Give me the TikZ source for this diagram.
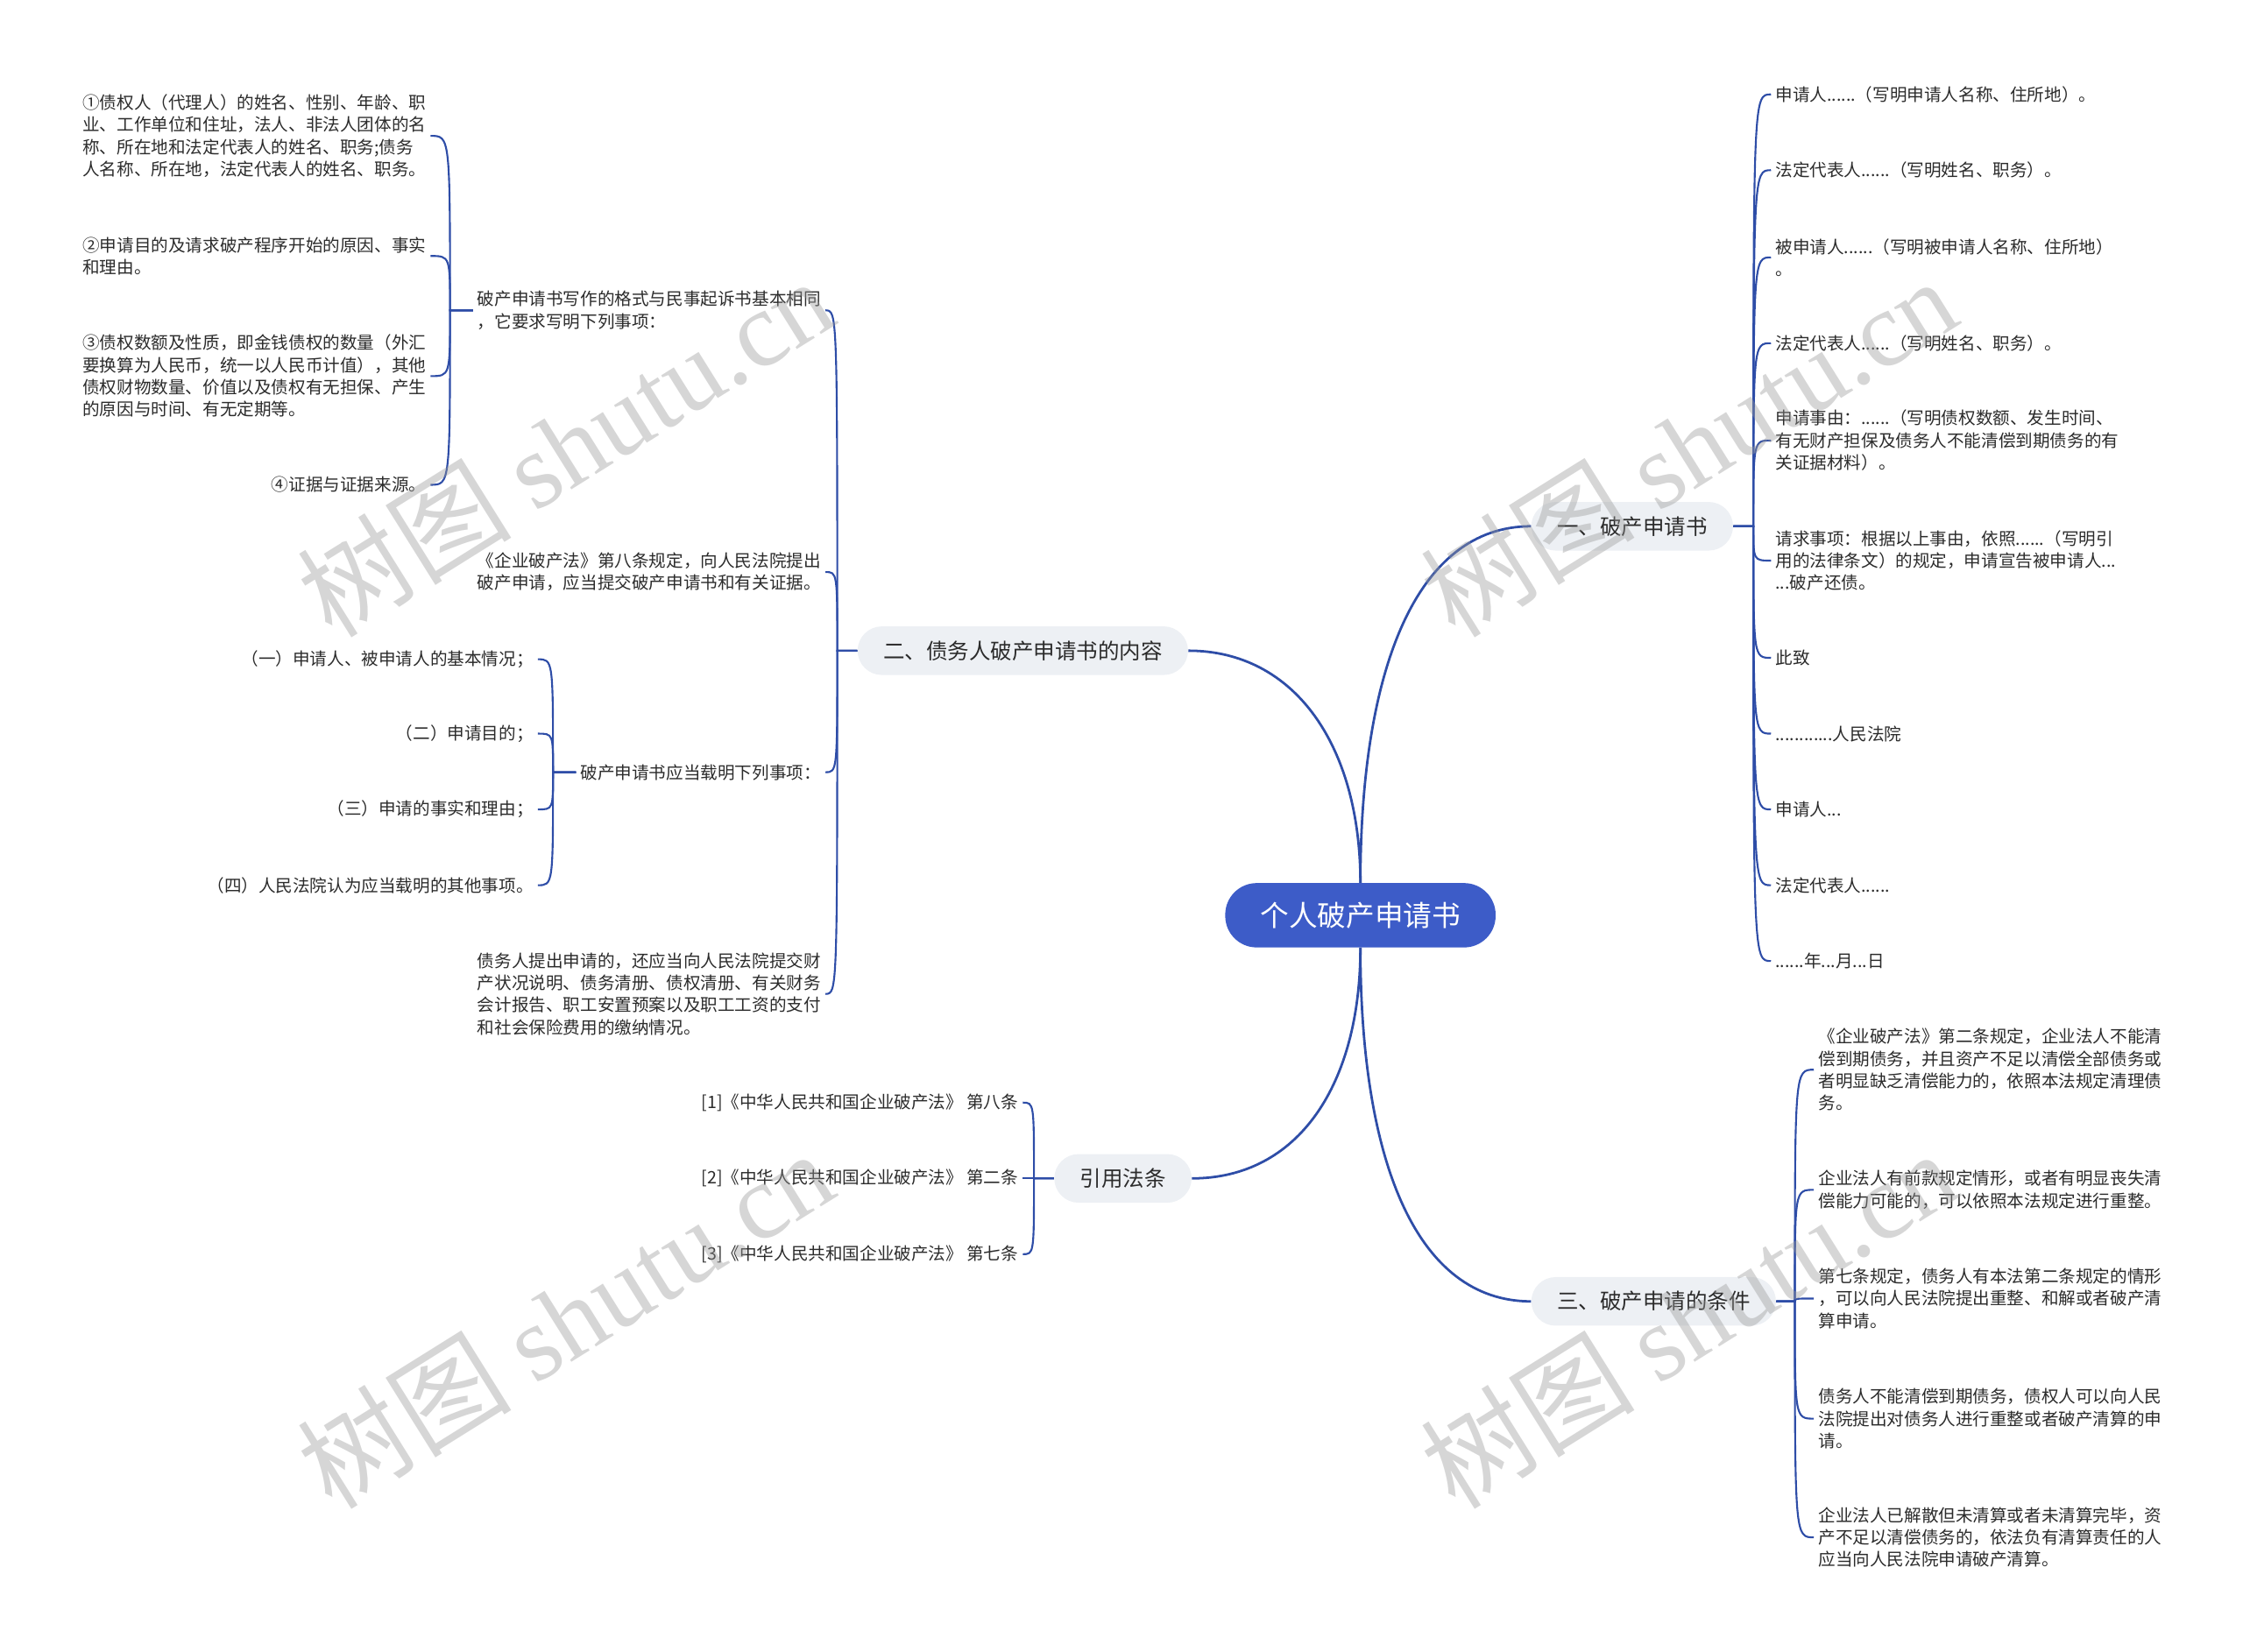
\documentclass[tikz,border=0pt]{standalone}
\usepackage{fontspec}
\setmainfont{Noto Sans CJK SC}
\newfontfamily\wmfont{Liberation Serif}
\usepackage{tikz}

\definecolor{linkblue}{HTML}{2E4DA7}
\definecolor{rootblue}{HTML}{3D5CC8}
\definecolor{branchgray}{HTML}{EDF0F4}
\definecolor{leaftext}{HTML}{2B2B2B}

\begin{document}
\begin{tikzpicture}[x=1pt, y=-1pt,
    root/.style={rectangle, rounded corners=22pt, fill=rootblue, text=white, minimum width=189pt, minimum height=45pt, font=\fontsize{20}{24}\selectfont},
    branch/.style={rectangle, rounded corners=17pt, fill=branchgray, text=leaftext, minimum height=34pt, inner xsep=18pt, font=\fontsize{15}{18}\selectfont},
    leaf/.style={inner sep=3pt, text=leaftext, align=left, font=\fontsize{12}{15.5}\selectfont},
    link/.style={draw=linkblue, line width=1.3pt},
    mainlink/.style={draw=linkblue, line width=1.7pt},
    watermark/.style={text=black!40, text opacity=0.4, rotate=32, font=\fontsize{75}{80}\selectfont}]
    \useasboundingbox (0,0) rectangle (1568,1155);

    % Central node
    \node[root] (root) at (951,640) {个人破产申请书};

    % Branch nodes
    \node[branch] (b1) at (1141,368) {一、破产申请书};
    \node[branch] (b2) at (715,455) {二、债务人破产申请书的内容};
    \node[branch] (b3) at (1156,910) {三、破产申请的条件};
    \node[branch] (b4) at (785,824) {引用法条};

    % Spine points
    \coordinate (s1) at ([xshift=14pt]b1.east);
    \coordinate (s2) at ([xshift=-14pt]b2.west);
    \coordinate (s3) at ([xshift=13pt]b3.east);
    \coordinate (s4) at ([xshift=-14pt]b4.west);

    % Leaves of branch one
    \node[leaf, anchor=west] (r1) at (1238,66) {申请人......（写明申请人名称、住所地）。};
    \node[leaf, anchor=west] (r2) at (1238,119) {法定代表人......（写明姓名、职务）。};
    \node[leaf, anchor=west] (r3) at (1238,180) {被申请人......（写明被申请人名称、住所地）\\。};
    \node[leaf, anchor=west] (r4) at (1238,240) {法定代表人......（写明姓名、职务）。};
    \node[leaf, anchor=west] (r5) at (1238,308) {申请事由：......（写明债权数额、发生时间、\\有无财产担保及债务人不能清偿到期债务的有\\关证据材料）。};
    \node[leaf, anchor=west] (r6) at (1238,392) {请求事项：根据以上事由，依照......（写明引\\用的法律条文）的规定，申请宣告被申请人...\\...破产还债。};
    \node[leaf, anchor=west] (r7) at (1238,460) {此致};
    \node[leaf, anchor=west] (r8) at (1238,513) {............人民法院};
    \node[leaf, anchor=west] (r9) at (1238,566) {申请人...};
    \node[leaf, anchor=west] (r10) at (1238,619) {法定代表人......};
    \node[leaf, anchor=west] (r11) at (1238,672) {......年...月...日};

    % Leaves of branch two
    \node[leaf, anchor=east] (l1) at (577,217) {破产申请书写作的格式与民事起诉书基本相同\\，它要求写明下列事项：};
    \node[leaf, anchor=east] (l2) at (577,400) {《企业破产法》第八条规定，向人民法院提出\\破产申请，应当提交破产申请书和有关证据。};
    \node[leaf, anchor=east] (l3) at (577,540) {破产申请书应当载明下列事项：};
    \node[leaf, anchor=east] (l4) at (577,695) {债务人提出申请的，还应当向人民法院提交财\\产状况说明、债务清册、债权清册、有关财务\\会计报告、职工安置预案以及职工工资的支付\\和社会保险费用的缴纳情况。};
    \coordinate (sl1) at ([xshift=-16pt]l1.west);
    \coordinate (sl3) at ([xshift=-16pt]l3.west);

    \node[leaf, anchor=east] (p1) at (301,95) {①债权人（代理人）的姓名、性别、年龄、职\\业、工作单位和住址，法人、非法人团体的名\\称、所在地和法定代表人的姓名、职务;债务\\人名称、所在地，法定代表人的姓名、职务。};
    \node[leaf, anchor=east] (p2) at (301,179) {②申请目的及请求破产程序开始的原因、事实\\和理由。};
    \node[leaf, anchor=east] (p3) at (301,263) {③债权数额及性质，即金钱债权的数量（外汇\\要换算为人民币，统一以人民币计值），其他\\债权财物数量、价值以及债权有无担保、产生\\的原因与时间、有无定期等。};
    \node[leaf, anchor=east] (p4) at (301,339) {④证据与证据来源。};

    \node[leaf, anchor=east] (q1) at (376,461) {（一）申请人、被申请人的基本情况；};
    \node[leaf, anchor=east] (q2) at (376,513) {（二）申请目的；};
    \node[leaf, anchor=east] (q3) at (376,566) {（三）申请的事实和理由；};
    \node[leaf, anchor=east] (q4) at (376,619) {（四）人民法院认为应当载明的其他事项。};

    % Leaves of branch three
    \node[leaf, anchor=west] (t1) at (1268,748) {《企业破产法》第二条规定，企业法人不能清\\偿到期债务，并且资产不足以清偿全部债务或\\者明显缺乏清偿能力的，依照本法规定清理债\\务。};
    \node[leaf, anchor=west] (t2) at (1268,832) {企业法人有前款规定情形，或者有明显丧失清\\偿能力可能的，可以依照本法规定进行重整。};
    \node[leaf, anchor=west] (t3) at (1268,908) {第七条规定，债务人有本法第二条规定的情形\\，可以向人民法院提出重整、和解或者破产清\\算申请。};
    \node[leaf, anchor=west] (t4) at (1268,992) {债务人不能清偿到期债务，债权人可以向人民\\法院提出对债务人进行重整或者破产清算的申\\请。};
    \node[leaf, anchor=west] (t5) at (1268,1075) {企业法人已解散但未清算或者未清算完毕，资\\产不足以清偿债务的，依法负有清算责任的人\\应当向人民法院申请破产清算。};

    % Cited articles
    \node[leaf, anchor=east] (c1) at (715,771) {[1]《中华人民共和国企业破产法》 第八条};
    \node[leaf, anchor=east] (c2) at (715,824) {[2]《中华人民共和国企业破产法》 第二条};
    \node[leaf, anchor=east] (c3) at (715,877) {[3]《中华人民共和国企业破产法》 第七条};

    % Root connections
    \draw[mainlink] (root.north) .. controls +(0,-95) and +(75,0) .. (b2.east);
    \draw[mainlink] (root.north) .. controls +(0,-150) and +(-80,0) .. (b1.west);
    \draw[mainlink] (root.south) .. controls +(0,95) and +(75,0) .. (b4.east);
    \draw[mainlink] (root.south) .. controls +(0,150) and +(-80,0) .. (b3.west);

    % Branch one connections
    \draw[link] (b1.east) -- (s1) .. controls (s1 |- r1.west) .. (r1.west);
    \draw[link] (b1.east) -- (s1) .. controls (s1 |- r2.west) .. (r2.west);
    \draw[link] (b1.east) -- (s1) .. controls (s1 |- r3.west) .. (r3.west);
    \draw[link] (b1.east) -- (s1) .. controls (s1 |- r4.west) .. (r4.west);
    \draw[link] (b1.east) -- (s1) .. controls (s1 |- r5.west) .. (r5.west);
    \draw[link] (b1.east) -- (s1) .. controls (s1 |- r6.west) .. (r6.west);
    \draw[link] (b1.east) -- (s1) .. controls (s1 |- r7.west) .. (r7.west);
    \draw[link] (b1.east) -- (s1) .. controls (s1 |- r8.west) .. (r8.west);
    \draw[link] (b1.east) -- (s1) .. controls (s1 |- r9.west) .. (r9.west);
    \draw[link] (b1.east) -- (s1) .. controls (s1 |- r10.west) .. (r10.west);
    \draw[link] (b1.east) -- (s1) .. controls (s1 |- r11.west) .. (r11.west);

    % Branch two connections
    \draw[link] (b2.west) -- (s2) .. controls (s2 |- l1.east) .. (l1.east);
    \draw[link] (b2.west) -- (s2) .. controls (s2 |- l2.east) .. (l2.east);
    \draw[link] (b2.west) -- (s2) .. controls (s2 |- l3.east) .. (l3.east);
    \draw[link] (b2.west) -- (s2) .. controls (s2 |- l4.east) .. (l4.east);
    \draw[link] (l1.west) -- (sl1) .. controls (sl1 |- p1.east) .. (p1.east);
    \draw[link] (l1.west) -- (sl1) .. controls (sl1 |- p2.east) .. (p2.east);
    \draw[link] (l1.west) -- (sl1) .. controls (sl1 |- p3.east) .. (p3.east);
    \draw[link] (l1.west) -- (sl1) .. controls (sl1 |- p4.east) .. (p4.east);
    \draw[link] (l3.west) -- (sl3) .. controls (sl3 |- q1.east) .. (q1.east);
    \draw[link] (l3.west) -- (sl3) .. controls (sl3 |- q2.east) .. (q2.east);
    \draw[link] (l3.west) -- (sl3) .. controls (sl3 |- q3.east) .. (q3.east);
    \draw[link] (l3.west) -- (sl3) .. controls (sl3 |- q4.east) .. (q4.east);

    % Branch three connections
    \draw[link] (b3.east) -- (s3) .. controls (s3 |- t1.west) .. (t1.west);
    \draw[link] (b3.east) -- (s3) .. controls (s3 |- t2.west) .. (t2.west);
    \draw[link] (b3.east) -- (s3) .. controls (s3 |- t3.west) .. (t3.west);
    \draw[link] (b3.east) -- (s3) .. controls (s3 |- t4.west) .. (t4.west);
    \draw[link] (b3.east) -- (s3) .. controls (s3 |- t5.west) .. (t5.west);

    % Citation connections
    \draw[link] (b4.west) -- (s4) .. controls (s4 |- c1.east) .. (c1.east);
    \draw[link] (b4.west) -- (s4) .. controls (s4 |- c2.east) .. (c2.east);
    \draw[link] (b4.west) -- (s4) .. controls (s4 |- c3.east) .. (c3.east);

    % Watermarks
    \node[watermark] (wm1) at (395,312) {树图 {\wmfont shutu.cn}};
    \node[watermark] (wm2) at (1180,312) {树图 {\wmfont shutu.cn}};
    \node[watermark] (wm3) at (395,922) {树图 {\wmfont shutu.cn}};
    \node[watermark] (wm4) at (1180,922) {树图 {\wmfont shutu.cn}};
\end{tikzpicture}
\end{document}
